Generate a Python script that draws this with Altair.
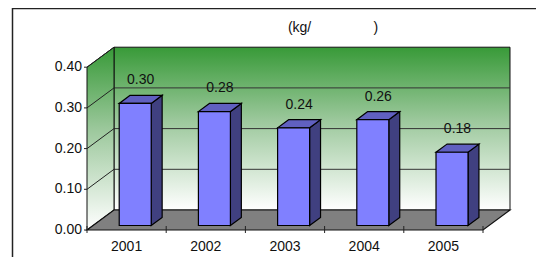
import altair as alt
import pandas as pd

# ---- data ----
years = ["2001", "2002", "2003", "2004", "2005"]
values = [0.30, 0.28, 0.24, 0.26, 0.18]
value_labels = ["0.30", "0.28", "0.24", "0.26", "0.18"]
y_ticks = [0.0, 0.1, 0.2, 0.3, 0.4]
y_tick_labels = ["0.00", "0.10", "0.20", "0.30", "0.40"]
title_text = "(kg/" + "\u00a0" * 16 + ")"

# ---- 3D projection settings (in scale units) ----
N = len(years)
VMAX = 0.4
DU = 27 / 79.2      # depth shift along x (category units)
DV = 20 / 407       # depth shift along y (value units)
F = 0.225           # bar front depth fraction
G = 0.405           # bar depth fraction
A = 0.33            # bar start inside category
W = 0.404           # bar width
FONT = "Liberation Sans"

W_PX, H_PX = 528, 249
xs = alt.Scale(domain=[-79 / 79.2, 449 / 79.2], nice=False, zero=False)
ys = alt.Scale(domain=[-27 / 407, 222 / 407], nice=False, zero=False)

def X(f="x"):
    return alt.X(f, type="quantitative", scale=xs, axis=None)

def Y(f="y"):
    return alt.Y(f, type="quantitative", scale=ys, axis=None)

green_grad = {
    "gradient": "linear", "x1": 0, "y1": 0, "x2": 0, "y2": 1,
    "stops": [
        {"offset": 0, "color": "#389A38"},
        {"offset": 0.45, "color": "#9CC89C"},
        {"offset": 1, "color": "#FFFFFF"},
    ],
}

# back wall
back = pd.DataFrame([{"x": DU, "x2": N + DU, "y": DV, "y2": VMAX + DV}])
back_l = alt.Chart(back).mark_rect(fill=green_grad, stroke="#111", strokeWidth=1).encode(
    x=X(), x2="x2", y=Y(), y2="y2")

# left wall
left = pd.DataFrame([{"x": 0, "y": 0, "y2": VMAX}, {"x": DU, "y": DV, "y2": VMAX + DV}])
left_l = alt.Chart(left).mark_area(fill=green_grad, stroke="#111", strokeWidth=1).encode(
    x=X(), y=Y(), y2="y2")

# floor
floor = pd.DataFrame([{"y": 0, "x": 0, "x2": N}, {"y": DV, "x": DU, "x2": N + DU}])
floor_l = alt.Chart(floor).mark_area(orient="horizontal", fill="#808080", stroke="#111",
                                     strokeWidth=1.2).encode(y=Y(), x=X(), x2="x2")

# grid lines on back wall
grid = pd.DataFrame([{"x": DU, "x2": N + DU, "y": v + DV} for v in y_ticks[1:-1]])
grid_l = alt.Chart(grid).mark_rule(color="#333", strokeWidth=1).encode(
    x=X(), x2="x2", y=Y())

# diagonals on left wall
diag = pd.DataFrame([{"x": 0, "x2": DU, "y": v, "y2": v + DV} for v in y_ticks[1:]])
diag_l = alt.Chart(diag).mark_rule(color="#222", strokeWidth=1).encode(
    x=X(), x2="x2", y=Y(), y2="y2")

# y ticks
yt = pd.DataFrame([{"x": 0, "x2": -3 / 79.2, "y": v, "t": t} for v, t in zip(y_ticks, y_tick_labels)])
ytick_l = alt.Chart(yt).mark_rule(color="#222", strokeWidth=1).encode(x=X(), x2="x2", y=Y())
ylab_l = alt.Chart(yt).mark_text(align="right", baseline="middle", dx=-5, font=FONT,
                                 fontSize=14, color="#111").encode(x=X(), y=Y(), text="t:N")

# x ticks and labels
xt = pd.DataFrame([{"x": i, "y": 4 / 407, "y2": -3 / 407} for i in range(N + 1)])
xtick_l = alt.Chart(xt).mark_rule(color="#222", strokeWidth=1).encode(x=X(), y=Y(), y2="y2")
xl = pd.DataFrame([{"x": i + 0.5, "y": 0, "t": yr} for i, yr in enumerate(years)])
xlab_l = alt.Chart(xl).mark_text(align="center", baseline="middle", dy=17, font=FONT,
                                 fontSize=14, color="#111").encode(x=X(), y=Y(), text="t:N")

# bars
front_rows, side_rows, top_rows, lab_rows = [], [], [], []
for i, (yr, v, lb) in enumerate(zip(years, values, value_labels)):
    u0, u1 = i + A, i + A + W
    front_rows.append({"year": yr, "x": u0 + F * DU, "x2": u1 + F * DU, "y": F * DV, "y2": v + F * DV})
    for d in (F, F + G):
        side_rows.append({"year": yr, "x": u1 + d * DU, "y": d * DV, "y2": v + d * DV})
        top_rows.append({"year": yr, "y": v + d * DV, "x": u0 + d * DU, "x2": u1 + d * DU})
    lab_rows.append({"year": yr, "x": (u0 + u1) / 2 + (F + G / 2) * DU, "y": v + (F + G) * DV, "t": lb})

front_l = alt.Chart(pd.DataFrame(front_rows)).mark_rect(fill="#8080FF", stroke="#000", strokeWidth=1.2).encode(
    x=X(), x2="x2", y=Y(), y2="y2")
side_l = alt.Chart(pd.DataFrame(side_rows)).mark_area(fill="#404080", stroke="#000", strokeWidth=1.2).encode(
    x=X(), y=Y(), y2="y2", detail="year:N")
top_l = alt.Chart(pd.DataFrame(top_rows)).mark_area(orient="horizontal", fill="#6060C0", stroke="#000",
                                                   strokeWidth=1.2).encode(
    y=Y(), x=X(), x2="x2", detail="year:N")
vlab_l = alt.Chart(pd.DataFrame(lab_rows)).mark_text(align="center", baseline="middle", dy=-15,
                                                    font=FONT, fontSize=14, color="#111").encode(
    x=X(), y=Y(), text="t:N")

# title and frame
title_l = alt.Chart(pd.DataFrame([{"t": title_text}])).mark_text(
    align="center", baseline="middle", font=FONT, fontSize=14, color="#111").encode(
    x=alt.value(325), y=alt.value(20), text="t:N")
frame = pd.DataFrame([{"k": "left"}])
frame_left = alt.Chart(frame).mark_rule(color="#222", strokeWidth=1.5).encode(
    x=alt.value(4.5), x2=alt.value(4.5), y=alt.value(0), y2=alt.value(H_PX))
frame_top = alt.Chart(frame).mark_rule(color="#222", strokeWidth=1.5).encode(
    x=alt.value(4.5), x2=alt.value(W_PX), y=alt.value(0.5), y2=alt.value(0.5))

chart = alt.layer(
    back_l, grid_l, left_l, diag_l, floor_l, xtick_l, ytick_l,
    side_l, top_l, front_l,
    vlab_l, ylab_l, xlab_l, title_l, frame_left, frame_top,
).properties(
    width=W_PX, height=H_PX, padding=0, autosize=alt.AutoSizeParams(type="none"),
    background="white",
).configure_view(stroke=None)

chart.save("out.html", embed_options={"renderer": "svg", "actions": False})
